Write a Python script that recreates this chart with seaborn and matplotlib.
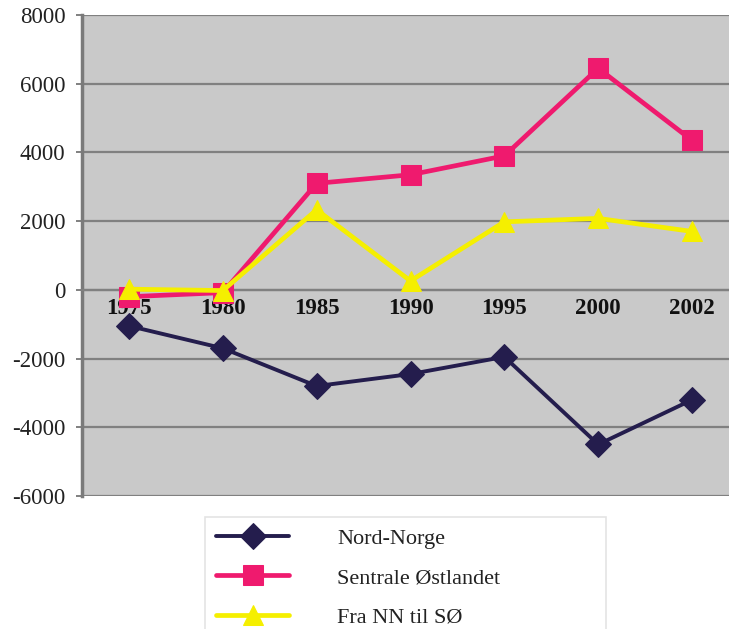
import matplotlib
matplotlib.use("Agg")
import matplotlib.pyplot as plt
import seaborn as sns
import pandas as pd
import numpy as np

years = ["1975", "1980", "1985", "1990", "1995", "2000", "2002"]
nord_norge = [-1050, -1700, -2800, -2450, -1950, -4500, -3200]
sentrale_ostlandet = [-200, -80, 3100, 3350, 3900, 6450, 4350]
fra_nn_til_so = [20, -20, 2330, 260, 1980, 2080, 1700]
series_names = ["Nord-Norge", "Sentrale Østlandet", "Fra NN til SØ"]
y_ticks = [8000, 6000, 4000, 2000, 0, -2000, -4000, -6000]

colors = {"Nord-Norge": "#241d4d", "Sentrale Østlandet": "#ef1a6e", "Fra NN til SØ": "#f5ef00"}
markers = {"Nord-Norge": "D", "Sentrale Østlandet": "s", "Fra NN til SØ": "^"}
msizes = {"Nord-Norge": 13, "Sentrale Østlandet": 14, "Fra NN til SØ": 15}
lwidths = {"Nord-Norge": 2.8, "Sentrale Østlandet": 3.4, "Fra NN til SØ": 3.4}

rows = []
for name, vals in zip(series_names, [nord_norge, sentrale_ostlandet, fra_nn_til_so]):
    for i, v in enumerate(vals):
        rows.append({"pos": i, "year": years[i], "value": v, "series": name})
df = pd.DataFrame(rows)

sns.set_style("white")
plt.rcParams["font.family"] = ["Liberation Serif", "DejaVu Serif"]

fig = plt.figure(figsize=(7.29, 6.29), dpi=100)
W, H = 729, 629
ax = fig.add_axes([82 / W, 1 - 496 / H, (739 - 82) / W, (496 - 15) / H])
ax.set_facecolor("#c9c9c9")

for name in series_names:
    sub = df[df["series"] == name]
    sns.lineplot(data=sub, x="pos", y="value", ax=ax, color=colors[name],
                 marker=markers[name], markersize=msizes[name],
                 markeredgecolor=colors[name], linewidth=lwidths[name],
                 label=name, zorder=3)

ax.set_xlim(-0.5, len(years) - 0.5)
ax.set_ylim(-6000, 8000)
ax.yaxis.grid(True, color="#808080", linewidth=1.6)
ax.set_axisbelow(True)
ax.set_xlabel("")
ax.set_ylabel("")

ax.set_xticks(range(len(years)))
ax.set_xticks(np.arange(0.5, len(years) - 0.5, 1), minor=True)
ax.set_xticklabels(years)
ax.set_yticks(y_ticks)
ax.set_yticklabels([str(t) for t in y_ticks])

ax.tick_params(axis="x", which="major", length=0, pad=6, labelsize=16.5, labelcolor="#111111")
ax.tick_params(axis="x", which="minor", length=6, width=1.6, color="#808080", direction="out")
ax.tick_params(axis="y", which="major", length=4, width=1.4, color="#808080",
               direction="out", pad=8, left=True, labelsize=16.5, labelcolor="#222222")

for s in ["top", "right"]:
    ax.spines[s].set_visible(False)
ax.spines["bottom"].set_position(("data", 0))
ax.spines["bottom"].set_color("#808080")
ax.spines["bottom"].set_linewidth(1.6)
ax.spines["left"].set_color("#7a7a7a")
ax.spines["left"].set_linewidth(2.5)

handles, labels = ax.get_legend_handles_labels()
if ax.get_legend():
    ax.get_legend().remove()
leg = fig.legend(handles, labels, loc="upper left",
                 bbox_to_anchor=(205 / W, 1 - 517 / H, (606 - 205) / W, 0.0),
                 mode="expand", fontsize=16, frameon=True, fancybox=False,
                 handlelength=3.3, handletextpad=2.15, labelspacing=0.85,
                 borderpad=0.5, borderaxespad=0)
leg.get_frame().set_edgecolor("#dddddd")
leg.get_frame().set_linewidth(1.2)
for t in leg.get_texts():
    t.set_color("#222222")

fig.canvas.draw()
for lab in ax.get_xticklabels():
    lab.set_fontweight("bold")

fig.savefig("out.png", dpi=100)
